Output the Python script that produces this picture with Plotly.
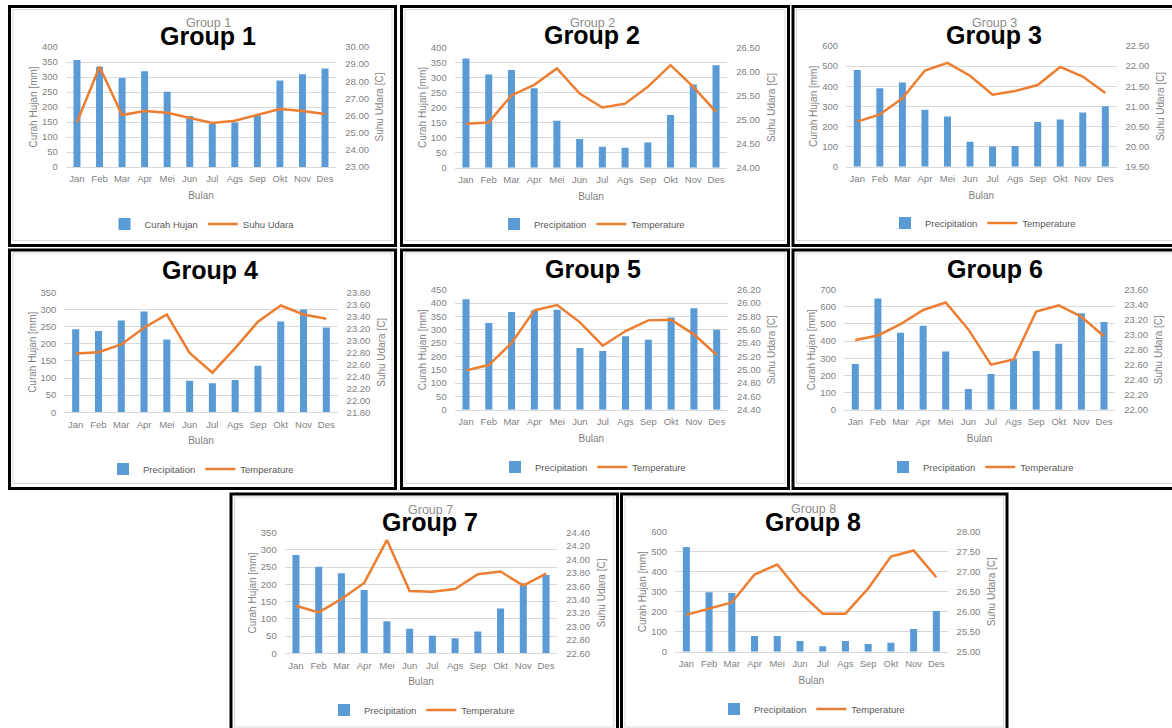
import plotly.graph_objects as go

W, H = 1172, 728

months = ["Jan", "Feb", "Mar", "Apr", "Mei", "Jun", "Jul", "Ags", "Sep", "Okt", "Nov", "Des"]

# Monthly rainfall (mm) and mean air temperature (C) for each group
rain_g1 = [357, 334, 297, 319, 251, 170, 143, 148, 173, 288, 309, 328]
temp_g1 = [25.61, 28.85, 26.03, 26.27, 26.17, 25.88, 25.57, 25.70, 26.03, 26.38, 26.27, 26.09]

rain_g2 = [363, 310, 325, 264, 156, 95, 70, 66, 84, 175, 276, 340]
temp_g2 = [24.91, 24.94, 25.50, 25.72, 26.06, 25.54, 25.25, 25.33, 25.68, 26.13, 25.68, 25.16]

rain_g3 = [481, 390, 418, 283, 249, 124, 101, 103, 222, 235, 269, 300]
temp_g3 = [20.62, 20.80, 21.20, 21.89, 22.08, 21.76, 21.29, 21.38, 21.53, 21.98, 21.74, 21.33]

rain_g4 = [242, 237, 268, 294, 212, 92, 85, 94, 136, 265, 300, 247]
temp_g4 = [22.78, 22.80, 22.93, 23.21, 23.43, 22.79, 22.46, 22.87, 23.31, 23.58, 23.43, 23.36]

rain_g5 = [414, 325, 366, 372, 375, 231, 220, 275, 262, 346, 380, 300]
temp_g5 = [24.99, 25.07, 25.40, 25.89, 25.97, 25.71, 25.36, 25.58, 25.74, 25.75, 25.53, 25.22]

rain_g6 = [266, 648, 449, 490, 340, 121, 208, 297, 342, 385, 562, 511]
temp_g6 = [22.93, 22.99, 23.14, 23.33, 23.43, 23.07, 22.60, 22.67, 23.31, 23.39, 23.24, 22.98]

rain_g7 = [285, 251, 232, 184, 93, 71, 51, 44, 63, 130, 203, 227]
temp_g7 = [23.31, 23.21, 23.41, 23.65, 24.29, 23.53, 23.52, 23.56, 23.78, 23.82, 23.61, 23.79]

rain_g8 = [523, 297, 293, 78, 78, 53, 27, 53, 38, 45, 113, 203]
temp_g8 = [25.92, 26.07, 26.23, 26.93, 27.18, 26.48, 25.95, 25.95, 26.58, 27.38, 27.53, 26.86]

group_titles = ["Group 1", "Group 2", "Group 3", "Group 4", "Group 5", "Group 6", "Group 7", "Group 8"]
rain_names = ["Curah Hujan"] + ["Precipitation"] * 7
temp_names = ["Suhu Udara"] + ["Temperature"] * 7

rain_series = [rain_g1, rain_g2, rain_g3, rain_g4, rain_g5, rain_g6, rain_g7, rain_g8]
temp_series = [temp_g1, temp_g2, temp_g3, temp_g4, temp_g5, temp_g6, temp_g7, temp_g8]

# Axis scales: (rain max, rain step, temp min, temp max, temp step)
scales = [
    (400, 50, 23.0, 30.0, 1.0),
    (400, 50, 24.0, 26.5, 0.5),
    (600, 100, 19.5, 22.5, 0.5),
    (350, 50, 21.8, 23.8, 0.2),
    (450, 50, 24.4, 26.2, 0.2),
    (700, 100, 22.0, 23.6, 0.2),
    (350, 50, 22.6, 24.4, 0.2),
    (600, 100, 25.0, 28.0, 0.5),
]

# Layout geometry in pixels
# frame: (left, top, right, bottom) of the black panel border
frames = [
    (9.5, 6.5, 395.5, 245.5),
    (401.5, 6.5, 788.5, 245.5),
    (793.0, 6.5, 1176, 245.5),
    (9.5, 250, 395.5, 488.5),
    (401.5, 250, 788.5, 488.5),
    (793.0, 250, 1176, 488.5),
    (231, 494, 617.5, 732),
    (621.5, 494, 1007, 732),
]
# plot area: (left, right, top, bottom)
plots = [
    (65.7, 336.3, 47.0, 167.0),
    (454.6, 727.4, 47.3, 167.7),
    (846.0, 1116.6, 46.0, 166.7),
    (64.3, 337.7, 292.3, 412.3),
    (454.6, 728.1, 289.7, 409.7),
    (844.0, 1115.3, 289.7, 409.7),
    (284.6, 557.4, 532.7, 653.3),
    (675.0, 947.7, 531.7, 651.7),
]
# big title centre (x, y), small grey chart title shown above it (or not), legend centre (x, y)
titles_xy = [(208, 35.5), (592, 35), (994, 35), (210, 270), (593, 269), (995, 269), (430, 522), (813, 521.5)]
show_small_title = [True, True, True, False, False, False, True, True]
legend_xy = [(202, 224), (592, 224), (983, 223), (201, 469), (593, 467), (981, 467), (422, 710), (812, 709)]

BLUE = "#5B9BD5"
ORANGE = "#ED7D31"
GRID = "#D9D9D9"
TXT = "#7F7F7F"
FONT = "Liberation Sans, Arial, sans-serif"

fig = go.Figure()
layout = {}
shapes = []
annotations = []


def px_x(v):
    return v / W


def px_y(v):
    return 1 - v / H


for i in range(8):
    xname = "x" if i == 0 else f"x{i + 1}"
    p, s = 2 * i + 1, 2 * i + 2
    yp = "y" if p == 1 else f"y{p}"
    ys = f"y{s}"
    lg = "legend" if i == 0 else f"legend{i + 1}"
    rmax, rstep, tmin, tmax, tstep = scales[i]
    l, r, t, b = plots[i]

    fig.add_trace(go.Bar(
        x=months, y=rain_series[i], name=rain_names[i], xaxis=xname, yaxis=yp,
        marker=dict(color=BLUE, line=dict(width=0)), width=0.31, legend=lg,
    ))
    fig.add_trace(go.Scatter(
        x=months, y=temp_series[i], name=temp_names[i], mode="lines", xaxis=xname, yaxis=ys,
        line=dict(color=ORANGE, width=2.5), legend=lg,
    ))

    layout["xaxis" if i == 0 else f"xaxis{i + 1}"] = dict(
        domain=[px_x(l), px_x(r)], anchor=yp, type="category", range=[-0.5, 11.5],
        showgrid=False, showline=True, linecolor=GRID, linewidth=1,
        ticks="outside", ticklen=3, tickcolor="rgba(0,0,0,0)",
        tickfont=dict(size=9.5, color=TXT, family=FONT),
        title=dict(text="Bulan", font=dict(size=10, color=TXT, family=FONT), standoff=8),
        automargin=False, fixedrange=True,
    )
    layout["yaxis" if p == 1 else f"yaxis{p}"] = dict(
        domain=[px_y(b), px_y(t)], anchor=xname, range=[0, rmax], dtick=rstep, tick0=0,
        showgrid=True, gridcolor=GRID, gridwidth=1, zeroline=False, showline=False,
        ticks="outside", ticklen=5, tickcolor="rgba(0,0,0,0)",
        tickfont=dict(size=9.5, color=TXT, family=FONT),
        title=dict(text="Curah Hujan [mm]", font=dict(size=10, color=TXT, family=FONT), standoff=2),
        automargin=False, fixedrange=True,
    )
    layout[f"yaxis{s}"] = dict(
        overlaying=yp, side="right", anchor=xname, range=[tmin, tmax], dtick=tstep, tick0=tmin,
        tickformat=".2f", showgrid=False, zeroline=False, showline=False,
        ticks="outside", ticklen=6, tickcolor="rgba(0,0,0,0)",
        tickfont=dict(size=9.5, color=TXT, family=FONT),
        title=dict(text="Suhu Udara [C]", font=dict(size=10, color=TXT, family=FONT), standoff=8),
        automargin=False, fixedrange=True,
    )

    lx, ly = legend_xy[i]
    layout[lg] = dict(
        orientation="h", x=px_x(lx), y=px_y(ly), xanchor="center", yanchor="middle",
        font=dict(size=9.5, color="#595959", family=FONT), bgcolor="rgba(0,0,0,0)",
        itemwidth=30, tracegroupgap=0, itemclick=False, itemdoubleclick=False,
    )

    # panel frames: thin grey chart border inside a heavy black outline
    fl, ft, fr, fb = frames[i]
    shapes.append(dict(type="rect", xref="paper", yref="paper",
                       x0=px_x(fl + 3.5), x1=px_x(fr - 3.5), y0=px_y(fb - 5), y1=px_y(ft + 3),
                       line=dict(color=GRID, width=1), layer="below"))
    shapes.append(dict(type="rect", xref="paper", yref="paper",
                       x0=px_x(fl), x1=px_x(fr), y0=px_y(fb), y1=px_y(ft),
                       line=dict(color="black", width=3)))

    tx, ty = titles_xy[i]
    if show_small_title[i]:
        annotations.append(dict(text=group_titles[i], xref="paper", yref="paper",
                                x=px_x(tx), y=px_y(ty - 12), xanchor="center", yanchor="middle",
                                showarrow=False, font=dict(size=12.5, color="#8C8C8C", family=FONT)))
    annotations.append(dict(text="<b>" + group_titles[i] + "</b>", xref="paper", yref="paper",
                            x=px_x(tx), y=px_y(ty), xanchor="center", yanchor="middle",
                            showarrow=False, font=dict(size=25, color="black", family=FONT)))

fig.update_layout(
    width=W, height=H, margin=dict(l=0, r=0, t=0, b=0, pad=0, autoexpand=False),
    paper_bgcolor="white", plot_bgcolor="white",
    bargap=0.69, shapes=shapes, annotations=annotations,
    font=dict(family=FONT, color=TXT),
    **layout,
)

fig.write_html("out.html", config={"displayModeBar": False})
